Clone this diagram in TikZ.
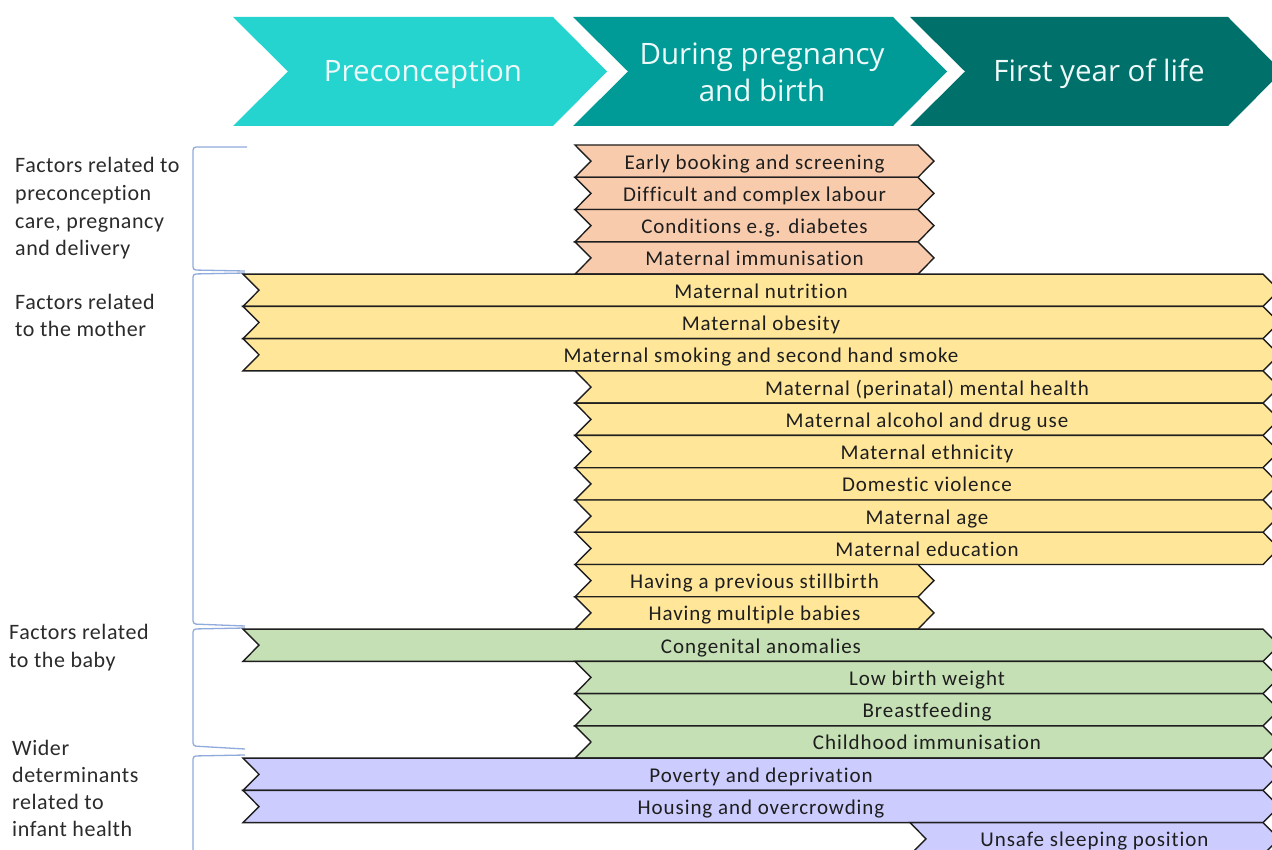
\documentclass[tikz,border=0pt]{standalone}
\usepackage{fontspec}
\setmainfont{Carlito}
\newfontfamily\barfont[LetterSpace=4.5,Ligatures=NoCommon]{Carlito}
\newfontfamily\lblfont[LetterSpace=2.5,Ligatures=NoCommon]{Carlito}
\newfontfamily\headfont{Open Sans}
\definecolor{chevA}{HTML}{26D4CF}
\definecolor{chevB}{HTML}{009B97}
\definecolor{chevC}{HTML}{00706B}
\definecolor{salmon}{HTML}{F8CBAD}
\definecolor{yel}{HTML}{FFE699}
\definecolor{grn}{HTML}{C5E0B4}
\definecolor{lav}{HTML}{CCCCFF}
\definecolor{brk}{HTML}{8FAADC}
\definecolor{ink}{HTML}{1E1E1E}
\definecolor{lbl}{HTML}{2B2B2B}
\definecolor{htext}{HTML}{EEFAFA}
\newcommand\fbar[6]{%
  \pgfmathsetmacro\yt{145+#4*32.27}%
  \pgfmathsetmacro\yb{\yt+32.27}%
  \pgfmathsetmacro\ym{\yt+16.135}%
  \pgfmathsetmacro\xc{(#2+16+min(#3,1270))/2}%
  \filldraw[barline,fill=#5] (#2,\yt) -- (#3,\yt) -- (#3+16,\ym) -- (#3,\yb) -- (#2,\yb) -- (#2+16,\ym) -- cycle;
  \node[bartext] (#1) at (\xc,\ym+8) {#6};
}
\begin{document}
\begin{tikzpicture}[x=1pt,y=-1pt,
  barline/.style={draw=ink,line width=1.4pt,line join=miter},
  bartext/.style={inner sep=0pt,anchor=base,text=ink,font=\barfont\fontsize{21}{24}\selectfont},
  headtext/.style={inner sep=0pt,text=htext,align=center,font=\headfont\fontsize{29.5}{37}\selectfont},
  grouplabel/.style={inner sep=0pt,text=lbl,align=left,anchor=base west,font=\lblfont\fontsize{22}{27.7}\selectfont},
  bracket/.style={draw=brk,line width=1.3pt,rounded corners=3pt}]
\useasboundingbox (0,0) rectangle (1272,850);
\clip (0,0) rectangle (1272,850);
\fill[white] (0,0) rectangle (1272,850);
% header chevrons
\fill[chevA] (233,17) -- (553,17) -- (607,71.5) -- (553,126) -- (233,126) -- (288,71.5) -- cycle;
\fill[chevB] (573,17) -- (893,17) -- (947,71.5) -- (893,126) -- (573,126) -- (628,71.5) -- cycle;
\fill[chevC] (910,17) -- (1228,17) -- (1282,71.5) -- (1228,126) -- (910,126) -- (965,71.5) -- cycle;
\node[headtext] (h1) at (423,74) {Preconception};
\node[headtext] (h2) at (762,72) {During pregnancy\\and birth};
\node[headtext] (h3) at (1099,74) {First year of life};
% brackets
\draw[bracket] (247,147) -- (193,147) -- (193,270) -- (245,271);
\draw[bracket] (245,273) -- (193,274) -- (193,624) -- (245,626);
\draw[bracket] (245,628) -- (193,629) -- (193,746) -- (245,749);
\draw[bracket] (245,755) -- (193,756) -- (193,880);
% group labels (anchor at baseline of last line)
\node[grouplabel] (g1) at (15,256) {Factors related to\\preconception\\care, pregnancy\\and delivery};
\node[grouplabel] (g2) at (15,337) {Factors related\\to the mother};
\node[grouplabel] (g3) at (9,667) {Factors related\\to the baby};
\node[grouplabel,font=\lblfont\fontsize{22}{27}\selectfont] (g4) at (12,836) {Wider\\determinants\\related to\\infant health};
% bars
\fbar{b0}{575}{918}{0}{salmon}{Early booking and screening}
\fbar{b1}{575}{918}{1}{salmon}{Difficult and complex labour}
\fbar{b2}{575}{918}{2}{salmon}{Conditions e.g. diabetes}
\fbar{b3}{575}{918}{3}{salmon}{Maternal immunisation}
\fbar{b4}{243}{1263}{4}{yel}{Maternal nutrition}
\fbar{b5}{243}{1263}{5}{yel}{Maternal obesity}
\fbar{b6}{243}{1263}{6}{yel}{Maternal smoking and second hand smoke}
\fbar{b7}{575}{1263}{7}{yel}{Maternal (perinatal) mental health}
\fbar{b8}{575}{1263}{8}{yel}{Maternal alcohol and drug use}
\fbar{b9}{575}{1263}{9}{yel}{Maternal ethnicity}
\fbar{b10}{575}{1263}{10}{yel}{Domestic violence}
\fbar{b11}{575}{1263}{11}{yel}{Maternal age}
\fbar{b12}{575}{1263}{12}{yel}{Maternal education}
\fbar{b13}{575}{918}{13}{yel}{Having a previous stillbirth}
\fbar{b14}{575}{918}{14}{yel}{Having multiple babies}
\fbar{b15}{243}{1263}{15}{grn}{Congenital anomalies}
\fbar{b16}{575}{1263}{16}{grn}{Low birth weight}
\fbar{b17}{575}{1263}{17}{grn}{Breastfeeding}
\fbar{b18}{575}{1263}{18}{grn}{Childhood immunisation}
\fbar{b19}{243}{1263}{19}{lav}{Poverty and deprivation}
\fbar{b20}{243}{1263}{20}{lav}{Housing and overcrowding}
\fbar{b21}{910}{1263}{21}{lav}{Unsafe sleeping position}
\end{tikzpicture}
\end{document}
